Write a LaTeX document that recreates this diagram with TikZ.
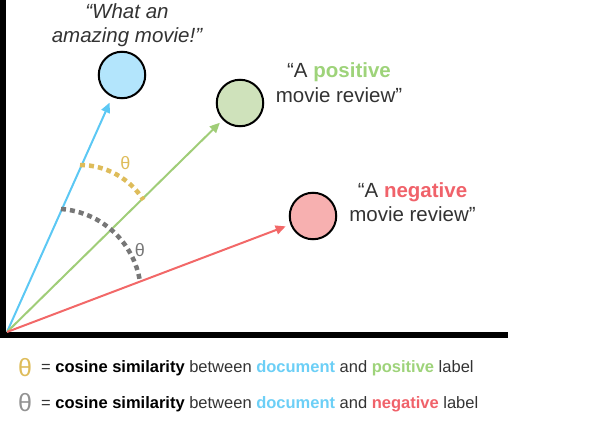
\documentclass[tikz,border=0pt]{standalone}
\usepackage{fontspec}
\setmainfont{Liberation Sans}
\usetikzlibrary{arrows.meta}
\definecolor{dark}{HTML}{333333}
\definecolor{blueline}{HTML}{5CC8F4}
\definecolor{bluefill}{HTML}{B3E5FC}
\definecolor{greenline}{HTML}{A0CD78}
\definecolor{greenfill}{HTML}{CFE2BB}
\definecolor{redline}{HTML}{F26868}
\definecolor{redfill}{HTML}{F7B0B0}
\definecolor{gold}{HTML}{DEBC5A}
\definecolor{grayarc}{HTML}{777777}
\definecolor{postext}{HTML}{9ED37A}
\definecolor{negtext}{HTML}{F0626A}
\definecolor{doctext}{HTML}{6CCFF6}
\begin{document}
\begin{tikzpicture}[x=1pt,y=-1pt,
  vec/.style={line width=2pt,-{Triangle[length=10pt,width=9pt]},shorten >=5pt},
  dot/.style={circle,draw=black,line width=2pt,minimum size=46.5pt,inner sep=0pt},
  lbl/.style={font=\fontsize{20.5}{24}\selectfont,text=dark,anchor=base,inner sep=0pt},
  leg/.style={font=\fontsize{16.5}{19}\selectfont,text=dark,anchor=base west,inner sep=0pt},
  legth/.style={font=\fontsize{25}{28}\selectfont,inner sep=0pt},
  th/.style={font=\fontsize{18}{20}\selectfont,inner sep=0pt},
  anglearc/.style={line width=4.5pt,dash pattern=on 5pt off 4pt}]
\useasboundingbox (0,0) rectangle (600,433);
% axes
\coordinate (ytop) at (3,0);
\coordinate (corner) at (3,335);
\coordinate (xend) at (508,335);
\draw[line width=6pt] (ytop) -- (corner);
\draw[line width=6pt] (0,335) -- (xend);
\coordinate (o) at (7,332);
% circles
\node[dot,fill=bluefill] (bc) at (122,75) {};
\node[dot,fill=greenfill] (gc) at (240,103) {};
\node[dot,fill=redfill] (rc) at (313,216) {};
% vectors
\draw[vec,blueline,shorten >=6pt] (o) -- (bc);
\draw[vec,greenline,shorten >=4pt] (o) -- (gc);
\draw[vec,redline,shorten >=5pt] (o) -- (rc);
% angle arcs
\draw[anglearc,gold] (80,165) arc[start angle=-90,end angle=-32.3,radius=75];
\draw[anglearc,grayarc] (61,209) arc[start angle=-86,end angle=-8.7,radius=86];
\node[th,text=gold] (t1) at (125.5,163) {θ};
\node[th,text=grayarc] (t2) at (140,250) {θ};
% labels
\node[lbl] (bl1) at (127,19) {\itshape “What an};
\node[lbl] (bl2) at (127,43) {\itshape amazing movie!”};
\node[lbl] (gl1) at (339,78) {“A \textcolor{postext}{\bfseries positive}};
\node[lbl] (gl2) at (339,103) {movie review”};
\node[lbl] (rl1) at (412.5,197) {“A \textcolor{negtext}{\bfseries negative}};
\node[lbl] (rl2) at (412.5,221) {movie review”};
% legend
\node[legth,text=gold] (lt1) at (25,368) {θ};
\node[leg] (lg1) at (41,372) {= \textcolor{black}{\bfseries cosine similarity} between \textcolor{doctext}{\bfseries document} and \textcolor{postext}{\bfseries positive} label};
\node[legth,text=grayarc!80] (lt2) at (25,403) {θ};
\node[leg] (lg2) at (41,408) {= \textcolor{black}{\bfseries cosine similarity} between \textcolor{doctext}{\bfseries document} and \textcolor{negtext}{\bfseries negative} label};
\end{tikzpicture}
\end{document}
